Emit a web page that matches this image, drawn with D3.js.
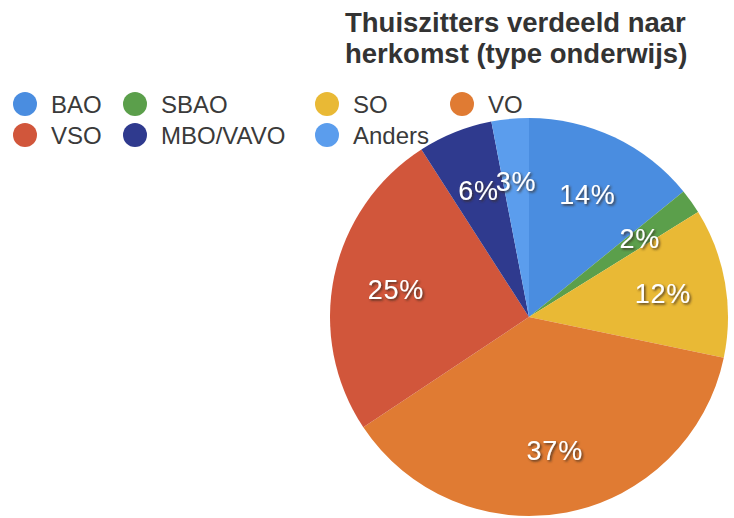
<!DOCTYPE html>
<html><head><meta charset="utf-8">
<script src="https://cdn.jsdelivr.net/npm/d3@7"></script>
<style>
html,body{margin:0;padding:0;background:#fff;}
svg{display:block;font-family:"Liberation Sans",Arial,Helvetica,sans-serif;}
</style></head>
<body>
<svg id="chart" width="734" height="518"></svg>
<script>
const categories = ["BAO", "SBAO", "SO", "VO", "VSO", "MBO/VAVO", "Anders"];
const values = [14, 2, 12, 37, 25, 6, 3];
const colors = ["#4a8de0", "#5b9f4b", "#e9b935", "#e07b33", "#d1563b", "#2f3a8e", "#5b9ded"];
const titleLines = ["Thuiszitters verdeeld naar", "herkomst (type onderwijs)"];

const svg = d3.select("#chart");
const cx = 529, cy = 317, R = 199, labelR = 136;

const defs = svg.append("defs");
const f = defs.append("filter").attr("id", "ts").attr("x", "-20%").attr("y", "-20%").attr("width", "140%").attr("height", "140%");
f.append("feDropShadow").attr("dx", 1.5).attr("dy", 1.5).attr("stdDeviation", 0.8)
  .attr("flood-color", "#3a2a20").attr("flood-opacity", 0.85);

const pie = d3.pie().sort(null).value(d => d.v);
const data = categories.map((c, i) => ({c, v: values[i], col: colors[i]}));
const arcs = pie(data);
const arc = d3.arc().innerRadius(0).outerRadius(R);
const labelArc = d3.arc().innerRadius(labelR).outerRadius(labelR);

const g = svg.append("g").attr("transform", `translate(${cx},${cy})`);
g.selectAll("path").data(arcs).join("path")
  .attr("d", arc).attr("fill", d => d.data.col);

g.selectAll("text.lbl").data(arcs).join("text")
  .attr("class", "lbl")
  .attr("transform", d => `translate(${labelArc.centroid(d)})`)
  .attr("text-anchor", "middle").attr("dy", "0.36em")
  .attr("font-size", 27).attr("letter-spacing", 0.8).attr("fill", "#ffffff")
  .attr("filter", "url(#ts)")
  .text(d => d.data.v + "%");

// title
svg.append("g").selectAll("text").data(titleLines).join("text")
  .attr("x", 345).attr("y", (d, i) => 32 + i * 31)
  .attr("font-size", 27.5).attr("font-weight", "bold").attr("fill", "#333333")
  .text(d => d);

// legend
const colX = [25, 135, 327, 462];
const rowY = [104, 135];
const leg = svg.append("g").selectAll("g").data(data).join("g")
  .attr("transform", (d, i) => `translate(${colX[i % 4]},${rowY[Math.floor(i / 4)]})`);
leg.append("circle").attr("r", 12).attr("fill", d => d.col);
leg.append("text").attr("x", 26).attr("dy", "0.36em")
  .attr("font-size", 24).attr("fill", "#3a3a3a").text(d => d.c);
</script>
</body></html>
